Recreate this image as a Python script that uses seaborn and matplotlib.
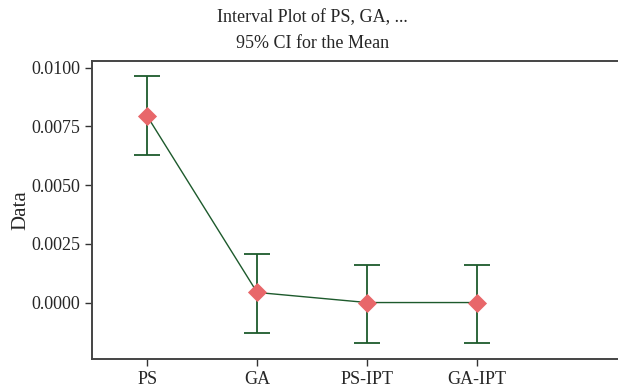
import numpy as np
import pandas as pd
import matplotlib
matplotlib.use("Agg")
import matplotlib.pyplot as plt
import seaborn as sns

# values
groups = ["PS", "GA", "PS-IPT", "GA-IPT"]
means = [0.00794, 0.00043, 0.0, 0.0]
ci_upper = [0.00964, 0.00207, 0.00161, 0.00161]
ci_lower = [0.00628, -0.00129, -0.00171, -0.00174]

sns.set_style("white")
plt.rcParams["font.family"] = ["Liberation Serif", "DejaVu Serif"]

df = pd.DataFrame({"group": groups, "mean": means})
line_green = "#1d5a2c"
diamond_red = "#e8676a"

fig = plt.figure(figsize=(6.18, 3.91), dpi=100)
ax = fig.add_axes([0.149, 0.082, 0.851, 0.762])

# connecting line through the means
sns.pointplot(data=df, x="group", y="mean", color=line_green, markers="",
              linewidth=1.0, errorbar=None, ax=ax)

# 95% CI intervals
x = np.arange(len(groups))
lo = np.array(means) - np.array(ci_lower)
hi = np.array(ci_upper) - np.array(means)
ax.errorbar(x, means, yerr=[lo, hi], fmt="none", ecolor=line_green,
            elinewidth=1.3, capsize=9.5, capthick=1.3, zorder=3)

# diamond markers for the means
sns.scatterplot(data=df, x="group", y="mean", marker="D", s=95,
                color=diamond_red, edgecolor=diamond_red, linewidth=0,
                zorder=4, ax=ax)

ax.set_xlim(-0.5, 4.28)
ax.set_ylim(-0.0024, 0.01028)
ax.set_yticks([0.0, 0.0025, 0.0050, 0.0075, 0.0100])
ax.set_yticklabels(["0.0000", "0.0025", "0.0050", "0.0075", "0.0100"])
ax.set_xlabel("")
ax.set_ylabel("Data", fontsize=15, labelpad=1)
ax.tick_params(axis="both", labelsize=13, length=5, width=1.0,
               color="#333333", direction="out", left=True, bottom=True)

for side in ["left", "top", "bottom"]:
    ax.spines[side].set_color("#444444")
    ax.spines[side].set_linewidth(1.4)
ax.spines["right"].set_visible(False)

fig.text(0.505, 0.955, "Interval Plot of PS, GA, ...", ha="center", va="center",
         fontsize=13)
fig.text(0.505, 0.888, "95% CI for the Mean", ha="center", va="center",
         fontsize=13)

fig.savefig("out.png", dpi=100)
